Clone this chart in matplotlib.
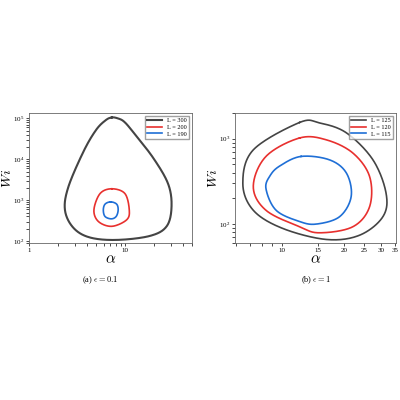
import numpy as np
import matplotlib
matplotlib.use("Agg")
import matplotlib.pyplot as plt

plt.rcParams['font.family'] = ['Liberation Serif', 'DejaVu Serif']
plt.rcParams['mathtext.fontset'] = 'cm'

# (a) eps=0.1 contours: (alpha, Wi)
a300_alpha = [7.3, 8.4, 9.8, 12.2, 19.7, 28.2, 30.6, 27.2, 18.2, 8.2, 4.3, 2.9, 2.37, 2.57, 3.7, 5.0, 6.3]
a300_wi = [1.05e5, 1.0e5, 8.3e4, 4.6e4, 1.08e4, 2500, 690, 230, 134, 107, 123, 212, 575, 2100, 1.55e4, 5.2e4, 9.0e4]
a200_alpha = [7.3, 10.0, 11.1, 10.4, 7.3, 5.3, 4.75, 5.5]
a200_wi = [1900, 1450, 575, 330, 230, 300, 575, 1450]
a190_alpha = [7.1, 8.2, 8.5, 8.1, 7.2, 6.2, 5.95, 6.2]
a190_wi = [910, 800, 575, 400, 350, 400, 575, 800]

# (b) eps=1 contours
b125_alpha = [12.2, 15.2, 20.5, 27.5, 31.8, 30.7, 23.7, 16.4, 10.1, 7.3, 6.5, 7.3]
b125_wi = [1550, 1530, 1170, 565, 230, 122, 74, 66, 89, 145, 300, 740]
b120_alpha = [12.2, 16.4, 22.0, 26.5, 26.5, 22.0, 15.2, 12.2, 8.4, 7.3, 8.4]
b120_wi = [1020, 970, 680, 360, 160, 93, 79, 93, 145, 275, 620]
b115_alpha = [12.4, 17.0, 20.5, 21.6, 19.0, 14.7, 12.2, 9.4, 8.4, 8.8, 9.8]
b115_wi = [620, 565, 395, 210, 122, 100, 107, 145, 260, 370, 480]

def smooth_closed(xs, ys, n=30):
    # periodic Catmull-Rom in log space for drawing a smooth closed curve
    P = np.column_stack([np.log10(xs), np.log10(ys)])
    m = len(P)
    out = []
    for i in range(m):
        p0, p1, p2, p3 = P[(i-1) % m], P[i], P[(i+1) % m], P[(i+2) % m]
        for t in np.linspace(0, 1, n, endpoint=False):
            t2, t3 = t*t, t*t*t
            out.append(0.5*((2*p1) + (-p0+p2)*t + (2*p0-5*p1+4*p2-p3)*t2 + (-p0+3*p1-3*p2+p3)*t3))
    out.append(out[0])
    out = np.array(out)
    return 10**out[:, 0], 10**out[:, 1]

fig = plt.figure(figsize=(4, 4), dpi=100)
ax1 = fig.add_axes([0.0725, 0.3925, 0.4075, 0.325])
ax2 = fig.add_axes([0.5875, 0.3925, 0.4025, 0.325])

for xs, ys, c, lab, lw in [(a300_alpha, a300_wi, '#444444', 'L = 300', 1.5),
                           (a200_alpha, a200_wi, '#e8302e', 'L = 200', 1.2),
                           (a190_alpha, a190_wi, '#1f6fd6', 'L = 190', 1.2)]:
    x, y = smooth_closed(xs, ys)
    ax1.plot(x, y, color=c, lw=lw, label=lab)
ax1.set_xscale('log'); ax1.set_yscale('log')
ax1.set_xlim(1, 50); ax1.set_ylim(90, 1.35e5)
ax1.set_xticks([1, 10]); ax1.set_xticklabels(['1', '10'])

for xs, ys, c, lab in [(b125_alpha, b125_wi, '#444444', 'L = 125'),
                       (b120_alpha, b120_wi, '#e8302e', 'L = 120'),
                       (b115_alpha, b115_wi, '#1f6fd6', 'L = 115')]:
    x, y = smooth_closed(xs, ys)
    ax2.plot(x, y, color=c, lw=1.2, label=lab)
ax2.set_xscale('log'); ax2.set_yscale('log')
ax2.set_xlim(5.96, 35.5); ax2.set_ylim(60, 2000)
xt = [10, 15, 20, 25, 30, 35]
ax2.set_xticks(xt); ax2.set_xticklabels([str(v) for v in xt])
ax2.xaxis.set_minor_formatter(matplotlib.ticker.NullFormatter())

for ax in (ax1, ax2):
    ax.tick_params(labelsize=5, length=2, width=0.5, which='both', direction='out', pad=1.5)
    ax.set_xlabel(r'$\alpha$', fontsize=11, labelpad=0)
    ax.set_ylabel(r'$Wi$', fontsize=10, labelpad=-1)
    for s in ax.spines.values():
        s.set_linewidth(0.6); s.set_color('#666666')
    ax.legend(loc='upper right', fontsize=4.5, frameon=True, fancybox=False,
              edgecolor='#888888', handlelength=2.5, borderpad=0.3, labelspacing=0.2)

fig.text(0.25, 0.295, r'(a) $\epsilon = 0.1$', fontsize=6, ha='center')
fig.text(0.79, 0.295, r'(b) $\epsilon = 1$', fontsize=6, ha='center')
fig.savefig('out.png', dpi=100)
